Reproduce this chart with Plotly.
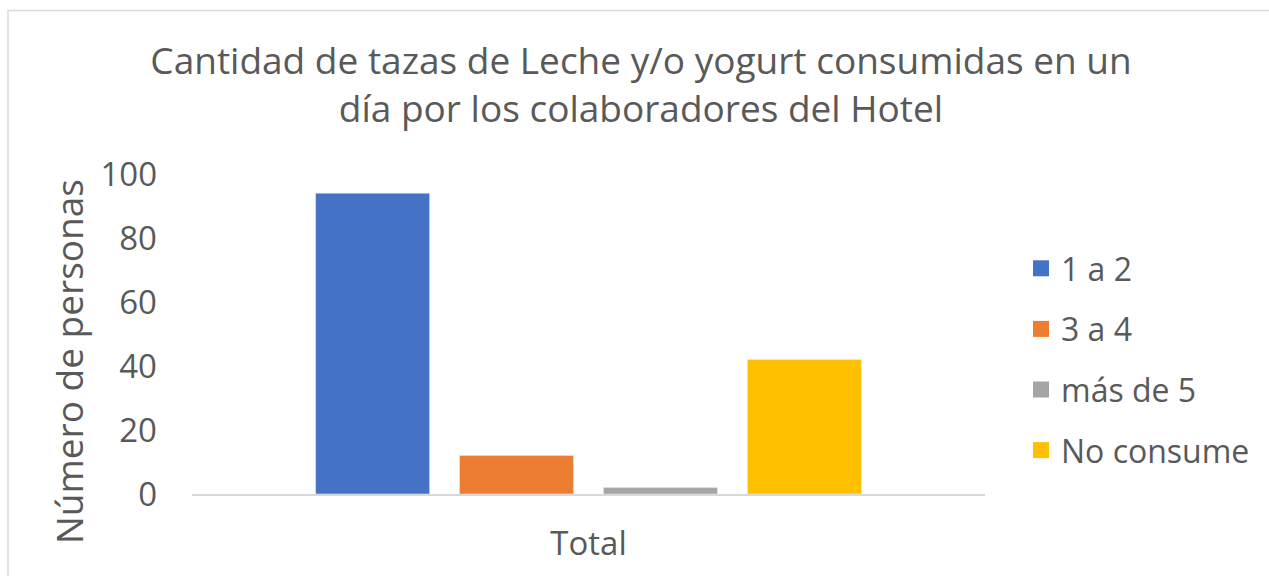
import plotly.graph_objects as go

categories = ["Total"]
series_names = ["1 a 2", "3 a 4", "más de 5", "No consume"]
series_values = [[94], [12], [2], [42]]
series_colors = ["#4472C4", "#ED7D31", "#A5A5A5", "#FFC000"]
y_ticks = [0, 20, 40, 60, 80, 100]

title_text = "Cantidad de tazas de Leche y/o yogurt consumidas en un<br>día por los colaboradores del Hotel"
y_title = "Número de personas"

FONT = "Open Sans"
TXT = "#595959"

fig = go.Figure()
for name, vals, col in zip(series_names, series_values, series_colors):
    fig.add_trace(go.Bar(x=categories, y=vals, name=name, marker_color=col,
                         showlegend=False, legendgroup=name))
    # legend proxy with a larger square symbol
    fig.add_trace(go.Scatter(x=[None], y=[None], mode="markers", name=name,
                             marker=dict(symbol="square", size=16, color=col),
                             legendgroup=name, showlegend=True))

fig.update_layout(
    width=1269, height=576,
    margin=dict(l=192, r=284, t=174, b=82, autoexpand=False),
    paper_bgcolor="white", plot_bgcolor="white",
    font=dict(family=FONT, color=TXT, size=32),
    bargap=0.274, bargroupgap=0.208, barmode="group",
    title=dict(text=title_text, x=641/1269, xanchor="center",
               y=1-74/576, yanchor="middle", yref="container",
               font=dict(family=FONT, size=37, color=TXT)),
    legend=dict(x=(1021-192)/793, xanchor="left", y=(494-241)/320, yanchor="top",
                font=dict(family=FONT, size=32, color=TXT),
                tracegroupgap=16, itemsizing="trace", bgcolor="rgba(0,0,0,0)"),
    xaxis=dict(showgrid=False, showline=True, linecolor="#D9D9D9", linewidth=2,
               ticks="", ticklabelstandoff=19, tickfont=dict(size=33), zeroline=False),
    yaxis=dict(range=[0, 100], tickvals=y_ticks, showgrid=False, showline=False,
               zeroline=False, ticks="", ticklabelstandoff=34, tickfont=dict(size=33)),
    annotations=[dict(text=y_title, textangle=-90, xref="paper", yref="paper",
                      x=(68-192)/793, y=(494-362)/320, xanchor="center", yanchor="middle",
                      showarrow=False, font=dict(size=37, color=TXT, family=FONT))],
    shapes=[dict(type="rect", xref="paper", yref="paper",
                 x0=(8-192)/793, x1=(1290-192)/793, y0=(494-600)/320, y1=(494-10.5)/320,
                 line=dict(color="#D9D9D9", width=1.5), fillcolor="rgba(0,0,0,0)", layer="below")],
)

fig.write_html("out.html", config={"displayModeBar": False},
               post_script="document.body.style.margin='0';document.body.style.padding='0';")
